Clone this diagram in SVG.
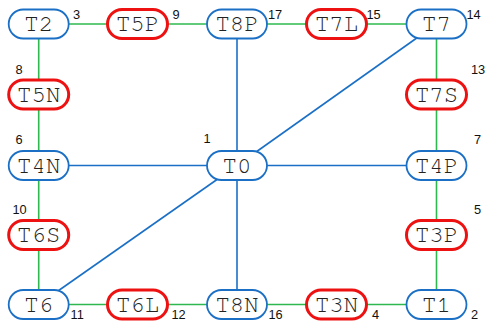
<svg xmlns="http://www.w3.org/2000/svg" width="486" height="321" viewBox="0 0 486 321">
<style>
.g{stroke:#2eb84f;stroke-width:1.6;fill:none}
.b{stroke:#1b70c6;stroke-width:1.6;fill:none}
.nb{fill:#fff;stroke:#1b70c6;stroke-width:1.8}
.nr{fill:#fff;stroke:#ee1111;stroke-width:3}
.t{font-family:"Nimbus Mono PS","Nimbus Mono L","FreeMono","Courier New","Liberation Mono",monospace;font-size:24px;fill:#222;text-anchor:middle;dominant-baseline:central}
.n{font-family:"Liberation Sans",Arial,sans-serif;font-size:12.8px;fill:#111}
</style>
<g id="connectors">
<line class="g" x1="38.7" y1="24" x2="137.5" y2="24"/>
<line class="g" x1="137.5" y1="24" x2="237" y2="24"/>
<line class="g" x1="237" y1="24" x2="336.5" y2="24"/>
<line class="g" x1="336.5" y1="24" x2="436.5" y2="24"/>
<line class="g" x1="38.7" y1="24" x2="38.7" y2="304.5"/>
<line class="g" x1="436.5" y1="24" x2="436.5" y2="304.5"/>
<line class="g" x1="38.7" y1="304.5" x2="436.5" y2="304.5"/>
<line class="b" x1="237" y1="24" x2="237" y2="304.5"/>
<line class="b" x1="38.7" y1="165.5" x2="436.5" y2="165.5"/>
<line class="b" x1="237" y1="165.5" x2="436.5" y2="24"/>
<line class="b" x1="237" y1="165.5" x2="38.7" y2="304.5"/>
</g>
<g id="T2"><rect class="nb" x="8.7" y="9.5" width="60" height="29" rx="14.5"/><text class="t" x="38.7" y="24">T2</text></g>
<g id="T5P"><rect class="nr" x="107.5" y="9.5" width="60" height="29" rx="14.5"/><text class="t" x="137.5" y="24">T5P</text></g>
<g id="T8P"><rect class="nb" x="207" y="9.5" width="60" height="29" rx="14.5"/><text class="t" x="237" y="24">T8P</text></g>
<g id="T7L"><rect class="nr" x="306.5" y="9.5" width="60" height="29" rx="14.5"/><text class="t" x="336.5" y="24">T7L</text></g>
<g id="T7"><rect class="nb" x="406.5" y="9.5" width="60" height="29" rx="14.5"/><text class="t" x="436.5" y="24">T7</text></g>
<g id="T5N"><rect class="nr" x="8.7" y="80" width="60" height="29" rx="14.5"/><text class="t" x="38.7" y="94.5">T5N</text></g>
<g id="T7S"><rect class="nr" x="406.5" y="80" width="60" height="29" rx="14.5"/><text class="t" x="436.5" y="94.5">T7S</text></g>
<g id="T4N"><rect class="nb" x="8.7" y="151" width="60" height="29" rx="14.5"/><text class="t" x="38.7" y="165.5">T4N</text></g>
<g id="T0"><rect class="nb" x="207" y="151" width="60" height="29" rx="14.5"/><text class="t" x="237" y="165.5">T0</text></g>
<g id="T4P"><rect class="nb" x="406.5" y="151" width="60" height="29" rx="14.5"/><text class="t" x="436.5" y="165.5">T4P</text></g>
<g id="T6S"><rect class="nr" x="8.7" y="220.5" width="60" height="29" rx="14.5"/><text class="t" x="38.7" y="235">T6S</text></g>
<g id="T3P"><rect class="nr" x="406.5" y="220.5" width="60" height="29" rx="14.5"/><text class="t" x="436.5" y="235">T3P</text></g>
<g id="T6"><rect class="nb" x="8.7" y="290" width="60" height="29" rx="14.5"/><text class="t" x="38.7" y="304.5">T6</text></g>
<g id="T6L"><rect class="nr" x="107.5" y="290" width="60" height="29" rx="14.5"/><text class="t" x="137.5" y="304.5">T6L</text></g>
<g id="T8N"><rect class="nb" x="207" y="290" width="60" height="29" rx="14.5"/><text class="t" x="237" y="304.5">T8N</text></g>
<g id="T3N"><rect class="nr" x="306.5" y="290" width="60" height="29" rx="14.5"/><text class="t" x="336.5" y="304.5">T3N</text></g>
<g id="T1"><rect class="nb" x="406.5" y="290" width="60" height="29" rx="14.5"/><text class="t" x="436.5" y="304.5">T1</text></g>
<g id="labels">
<text class="n" x="73" y="18.5">3</text>
<text class="n" x="172.5" y="18.5">9</text>
<text class="n" x="268" y="18.5">17</text>
<text class="n" x="366.5" y="18.5">15</text>
<text class="n" x="466.5" y="18.5">14</text>
<text class="n" x="471" y="73.5">13</text>
<text class="n" x="15.5" y="74">8</text>
<text class="n" x="15.5" y="144">6</text>
<text class="n" x="203.5" y="143">1</text>
<text class="n" x="474" y="144">7</text>
<text class="n" x="12.5" y="214">10</text>
<text class="n" x="474" y="214">5</text>
<text class="n" x="70.5" y="319">11</text>
<text class="n" x="171.5" y="319">12</text>
<text class="n" x="268.5" y="319">16</text>
<text class="n" x="372" y="319">4</text>
<text class="n" x="471" y="319">2</text>
</g>
</svg>
